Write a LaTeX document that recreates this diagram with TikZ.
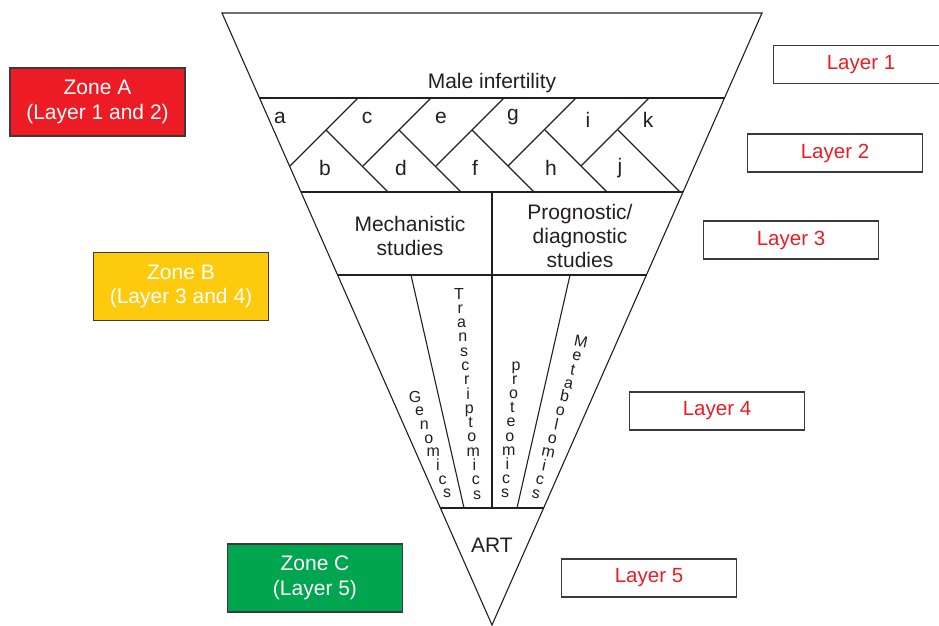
\documentclass[tikz,border=0pt]{standalone}
\usepackage{fontspec}
\setmainfont{Liberation Sans}
\definecolor{ink}{HTML}{231F20}
\definecolor{zred}{HTML}{ED1C24}
\definecolor{zyel}{HTML}{FDCA0E}
\definecolor{zgrn}{HTML}{00A54F}
\definecolor{bord}{HTML}{3A3A3A}
\tikzset{
  edge/.style={draw=ink, line width=1.1pt},
  lbl/.style={text=ink, font=\fontsize{21}{24}\selectfont, inner sep=0pt, align=center},
  small/.style={text=ink, font=\fontsize{21}{24}\selectfont, inner sep=0pt},
  vlet/.style={text=ink, font=\fontsize{16}{16}\selectfont, inner sep=0pt, anchor=base},
  zonebox/.style={draw=bord, line width=1.5pt, minimum width=175pt, minimum height=68pt, text=white,
     font=\fontsize{21}{24.5}\selectfont, align=center, inner sep=0pt},
  layerbox/.style={draw=bord, line width=1.5pt, fill=white, minimum width=175pt, minimum height=38pt,
     text=zred, font=\fontsize{20.5}{24}\selectfont, inner sep=0pt},
}
\begin{document}
\begin{tikzpicture}[x=1pt,y=-1pt]
\useasboundingbox (0,0) rectangle (939,626);
\clip (0,0) rectangle (939,626);
% triangle
\coordinate (TL) at (222,13);
\coordinate (TR) at (762,13);
\coordinate (AP) at (492,625);
\draw[edge, line join=miter] (TL) -- (TR) -- (AP) -- cycle;
% layer boundaries
\coordinate (L1l) at (259.5,98); \coordinate (L1r) at (724.5,98);
\coordinate (L2l) at (301,192); \coordinate (L2r) at (683,192);
\coordinate (L3l) at (337.5,275); \coordinate (L3r) at (646.5,275);
\coordinate (L4l) at (440,508); \coordinate (L4r) at (544,508);
\draw[edge] (L1l) -- (L1r);
\draw[edge] (L2l) -- (L2r);
\draw[edge] (L3l) -- (L3r);
\draw[edge] (L4l) -- (L4r);
% zigzag in layer 2
\foreach \x/\y in {290/166, 363/166, 436/166, 508/166, 581/166}
  \draw[edge] (\x,\y) -- ({\x+68},98);
\foreach \x in {326, 399, 472, 545, 618}
  \draw[edge] (\x,130) -- ({\x+62},192);
% layer 3/4 dividers
\coordinate (Ct) at (492,192); \coordinate (Cb) at (492,508);
\draw[edge] (Ct) -- (Cb);
\coordinate (G1t) at (411,275); \coordinate (G1b) at (464,508);
\coordinate (G3t) at (570,275); \coordinate (G3b) at (517,508);
\draw[edge] (G1t) -- (G1b);
\draw[edge] (G3t) -- (G3b);
% texts
\node[lbl] (male) at (492,83) {Male infertility};
\node[small] (la) at (280,118) {a};
\node[small] (lc) at (367,118) {c};
\node[small] (le) at (441,118) {e};
\node[small] (lg) at (513,117) {g};
\node[small] (li) at (588,120) {i};
\node[small] (lk) at (648,120) {k};
\node[small] (lb) at (325,168) {b};
\node[small] (ld) at (401,168) {d};
\node[small] (lf) at (475,168) {f};
\node[small] (lh) at (551,168) {h};
\node[small] (lj) at (620,168) {j};
\node[lbl] (mech) at (410,236) {Mechanistic\\studies};
\node[lbl] (prog) at (580,236) {Prognostic/\\diagnostic\\studies};
\node[lbl] (art) at (492,545) {ART};
% vertical words
\foreach \ch [count=\i from 0] in {G,e,n,o,m,i,c,s}
  \node[vlet] (gen\i) at ({415+\i*4.6},{402+\i*13.7}) {\ch};
\foreach \ch [count=\i from 0] in {T,r,a,n,s,c,r,i,p,t,o,m,i,c,s}
  \node[vlet] (tra\i) at ({459+\i*1.29},{299+\i*14.29}) {\ch};
\foreach \ch [count=\i from 0] in {p,r,o,t,e,o,m,i,c,s}
  \node[vlet] (pro\i) at ({516-\i*1.22},{370+\i*14.22}) {\ch};
\foreach \ch [count=\i from 0] in {M,e,t,a,b,o,l,o,m,i,c,s}
  \node[vlet, rotate=-12] (met\i) at ({580-\i*4.09},{347+\i*13.73}) {\ch};
% zone boxes
\node[zonebox, fill=zred] (zA) at (97.5,102) {Zone A\\(Layer 1 and 2)};
\node[zonebox, fill=zyel] (zB) at (181,286.5) {Zone B\\(Layer 3 and 4)};
\node[zonebox, fill=zgrn] (zC) at (315,578) {Zone C\\(Layer 5)};
% layer boxes
\node[layerbox] (ly1) at (861,64.5) {Layer 1};
\node[layerbox] (ly2) at (835,153) {Layer 2};
\node[layerbox] (ly3) at (791,240) {Layer 3};
\node[layerbox] (ly4) at (717,411) {Layer 4};
\node[layerbox] (ly5) at (649,578) {Layer 5};
\end{tikzpicture}
\end{document}
